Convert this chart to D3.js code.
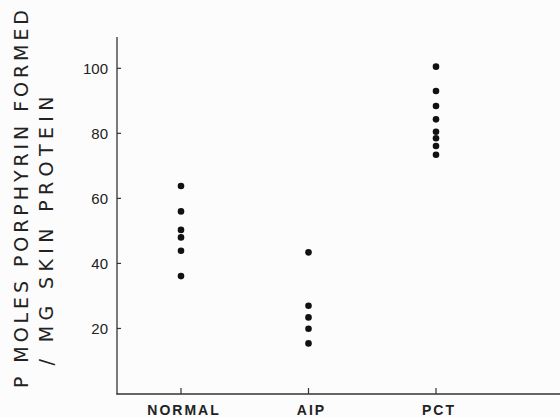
<!DOCTYPE html>
<html>
<head>
<meta charset="utf-8">
<script src="https://cdn.jsdelivr.net/npm/d3@7"></script>
<style>
  body { margin: 0; background: #fcfcfc; }
  svg { display: block; }
  .axisText { font-family: "Liberation Sans", Arial, sans-serif; fill: #222; }
  .ytitle { font-family: "DejaVu Sans", "Liberation Sans", sans-serif; }
</style>
</head>
<body>
<div id="scatter"></div>
<script>
// data
var groups = ["NORMAL", "AIP", "PCT"];
var normalValues = [63.8, 56.0, 50.3, 48.0, 43.9, 36.1];
var aipValues = [43.4, 27.0, 23.4, 19.9, 15.4];
var pctValues = [100.5, 93.0, 88.4, 84.3, 80.5, 78.5, 76.1, 73.4];
var yTicks = [20, 40, 60, 80, 100];
var titleLines = ["P MOLES PORPHYRIN FORMED", "/ MG SKIN PROTEIN"];

var svgWidth = 560;
var svgHeight = 417;

var svg = d3.select("#scatter")
  .append("svg")
  .attr("width", svgWidth)
  .attr("height", svgHeight);

var points = [];
[normalValues, aipValues, pctValues].forEach(function(vals, i) {
  vals.forEach(function(v) {
    points.push({ group: groups[i], value: v });
  });
});

// scales
var xScale = d3.scalePoint()
  .domain(groups)
  .range([181, 436]);

var yScale = d3.scaleLinear()
  .domain([0, 100])
  .range([393.5, 68.3]);

// axes lines
var axisColor = "#333";
svg.append("line")
  .attr("x1", 117).attr("x2", 117)
  .attr("y1", 37).attr("y2", 394.5)
  .attr("stroke", axisColor)
  .attr("stroke-width", 1.3);

svg.append("line")
  .attr("x1", 116.5).attr("x2", 560)
  .attr("y1", 394).attr("y2", 394)
  .attr("stroke", axisColor)
  .attr("stroke-width", 1.3);

// y ticks (pointing inward)
var yTickG = svg.append("g");
yTickG.selectAll("line")
  .data(yTicks)
  .enter()
  .append("line")
  .attr("x1", 117).attr("x2", 121)
  .attr("y1", d => yScale(d)).attr("y2", d => yScale(d))
  .attr("stroke", axisColor)
  .attr("stroke-width", 1.2);

yTickG.selectAll("text")
  .data(yTicks)
  .enter()
  .append("text")
  .attr("class", "axisText")
  .attr("x", 108)
  .attr("y", d => yScale(d))
  .attr("dy", "0.36em")
  .attr("text-anchor", "end")
  .attr("font-size", 15)
  .text(d => d);

// x ticks (pointing up)
var xTickG = svg.append("g");
xTickG.selectAll("line")
  .data(groups)
  .enter()
  .append("line")
  .attr("x1", d => xScale(d)).attr("x2", d => xScale(d))
  .attr("y1", 394).attr("y2", 388)
  .attr("stroke", axisColor)
  .attr("stroke-width", 1.2);

xTickG.selectAll("text")
  .data(groups)
  .enter()
  .append("text")
  .attr("class", "axisText")
  .attr("x", d => xScale(d) + 3)
  .attr("y", 415)
  .attr("text-anchor", "middle")
  .attr("font-size", 14)
  .attr("font-weight", "bold")
  .attr("letter-spacing", 2)
  .text(d => d);

// dots
svg.append("g")
  .selectAll("circle")
  .data(points)
  .enter()
  .append("circle")
  .attr("cx", d => xScale(d.group))
  .attr("cy", d => yScale(d.value))
  .attr("r", 3.3)
  .attr("fill", "#111");

// y title, two rotated lines
var titlePos = [{ x: 28, y: 199, len: 378 }, { x: 53, y: 231, len: 269 }];
svg.selectAll(".ytitle")
  .data(titleLines)
  .enter()
  .append("text")
  .attr("class", "axisText ytitle")
  .attr("transform", (d, i) => `translate(${titlePos[i].x}, ${titlePos[i].y}) rotate(-90)`)
  .attr("text-anchor", "middle")
  .attr("font-size", 19)
  .attr("textLength", (d, i) => titlePos[i].len)
  .attr("lengthAdjust", "spacing")
  .text(d => d);
</script>
</body>
</html>
